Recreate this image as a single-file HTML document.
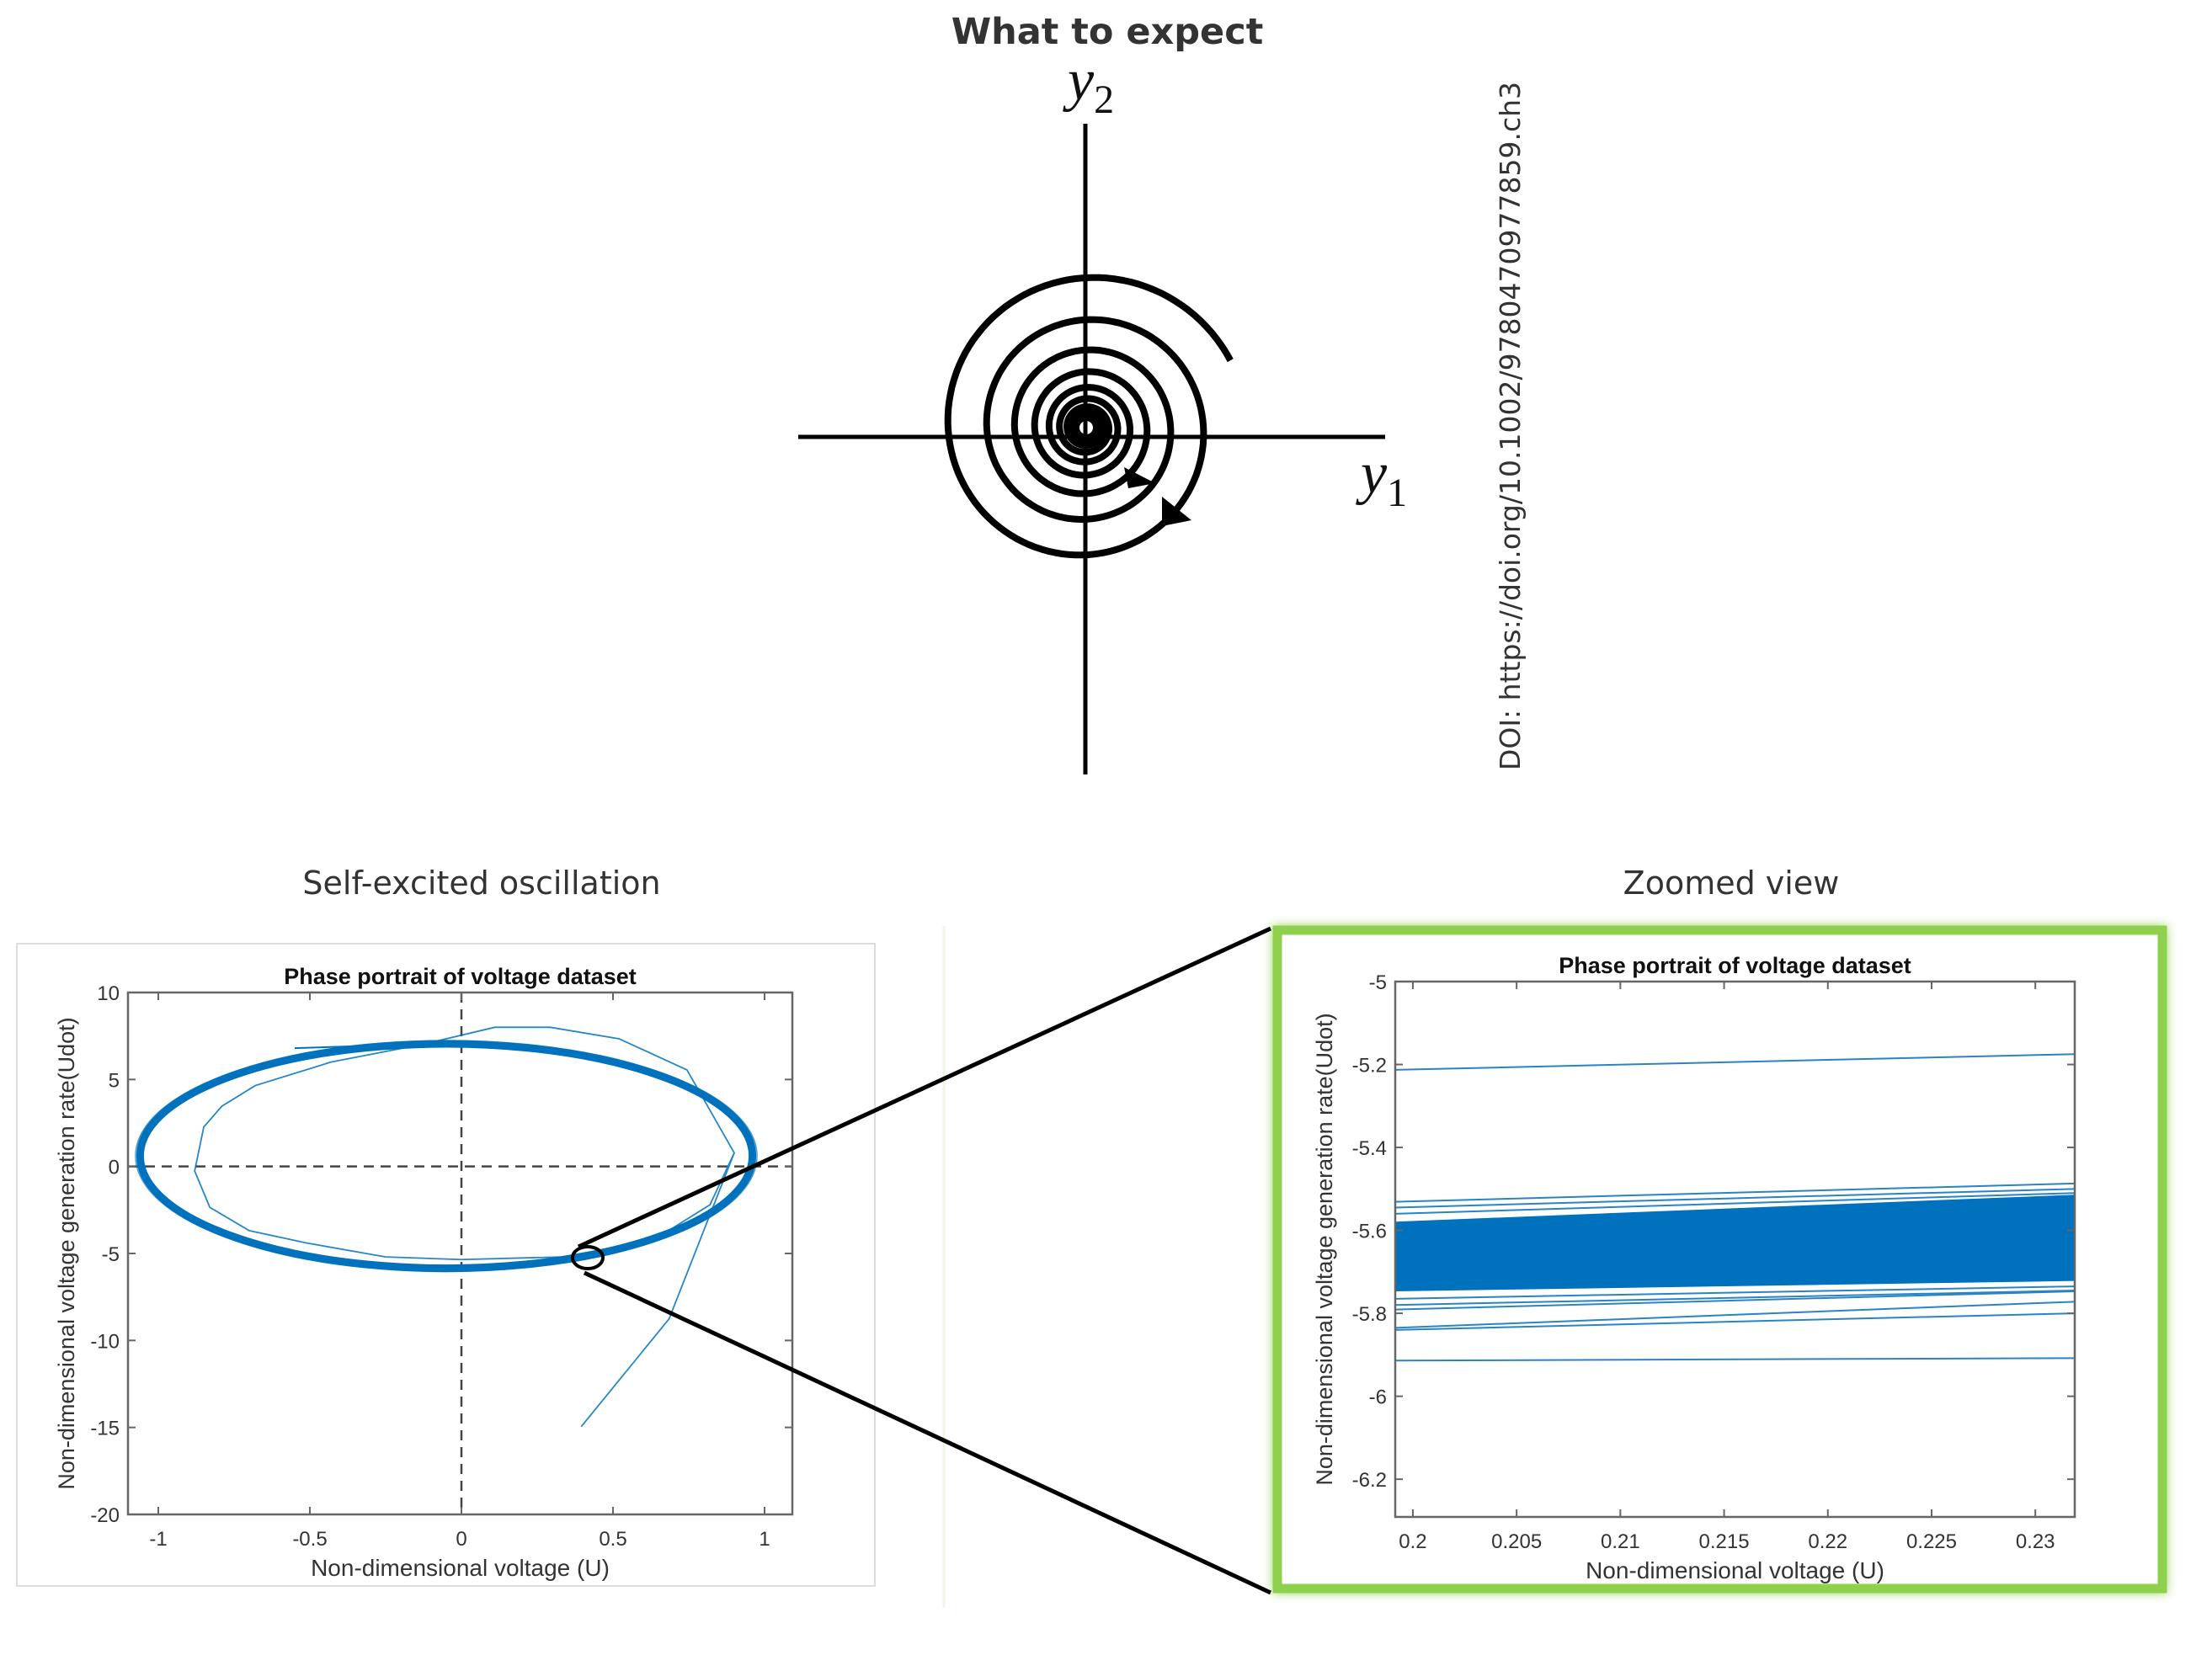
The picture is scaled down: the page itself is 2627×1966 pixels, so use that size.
<!DOCTYPE html>
<html><head><meta charset="utf-8">
<style>
html,body{margin:0;padding:0;background:#fff;}
svg{display:block;}
.t{font-family:"Liberation Sans",Arial,sans-serif;fill:#333;}
.h{font-family:"DejaVu Sans","Liberation Sans",sans-serif;fill:#333;}
</style></head>
<body>
<svg id="root" width="2627" height="1966" viewBox="0 0 2627 1966" xmlns="http://www.w3.org/2000/svg">
  <text class="h" x="1315" y="52" font-size="43" font-weight="bold" text-anchor="middle">What to expect</text>
  <g id="spiral">
    <line x1="1289" y1="147" x2="1289" y2="920" stroke="#000" stroke-width="5"/>
    <line x1="948" y1="519" x2="1645" y2="519" stroke="#000" stroke-width="5"/>
    <text x="1268" y="118" font-family="Liberation Serif,serif" font-style="italic" font-size="70" fill="#111">y<tspan font-style="normal" font-size="48" dy="16">2</tspan></text>
    <text x="1616" y="585" font-family="Liberation Serif,serif" font-style="italic" font-size="70" fill="#111">y<tspan font-style="normal" font-size="48" dy="16">1</tspan></text>
  </g>
  <text class="h" transform="translate(1805,506) rotate(-90)" font-size="33" text-anchor="middle">DOI: https://doi.org/10.1002/9780470977859.ch3</text>

  <text class="h" x="572" y="1062" font-size="38" text-anchor="middle">Self-excited oscillation</text>
  <text class="h" x="2056" y="1062" font-size="38" text-anchor="middle">Zoomed view</text>
  <rect x="20" y="1121" width="1019" height="763" fill="none" stroke="#ddd" stroke-width="2"/>
  <line x1="1121" y1="1100" x2="1121" y2="1910" stroke="#eef7e6" stroke-width="3"/>

  <g id="left"></g>

  <rect x="1517" y="1105" width="1051" height="782" fill="#fff" stroke="#8fd14f" stroke-width="11" style="filter:drop-shadow(0 0 6px #9bd860)"/>
  <g id="right"></g>

  <ellipse cx="698" cy="1494" rx="18" ry="13" fill="none" stroke="#000" stroke-width="4"/>
  <line x1="687" y1="1481" x2="1509" y2="1103" stroke="#000" stroke-width="5"/>
  <line x1="694" y1="1512" x2="1509" y2="1892" stroke="#000" stroke-width="5"/>
</svg>
<script>
// ---- left chart data ----
const leftXTicks = [-1, -0.5, 0, 0.5, 1];
const leftXTickLabels = ["-1", "-0.5", "0", "0.5", "1"];
const leftYTicks = [10, 5, 0, -5, -10, -15, -20];
const leftYTickLabels = ["10", "5", "0", "-5", "-10", "-15", "-20"];
const loopU = [0.96, 0.926, 0.825, 0.664, 0.455, 0.211, -0.05, -0.311, -0.555, -0.764, -0.925, -1.026, -1.06, -1.026, -0.925, -0.764, -0.555, -0.311, -0.05, 0.211, 0.455, 0.664, 0.825, 0.926];
const loopUdot = [0.6, 2.27, 3.83, 5.16, 6.19, 6.83, 7.05, 6.83, 6.19, 5.16, 3.83, 2.27, 0.6, -1.07, -2.63, -3.96, -4.99, -5.63, -5.85, -5.63, -4.99, -3.96, -2.63, -1.07];
const transU = [0.395, 0.685, 0.9, 0.744, 0.52, 0.293, 0.11, -0.12, -0.43, -0.68, -0.79, -0.85, -0.88, -0.83, -0.70, -0.51, -0.25, 0.0, 0.33, 0.63, 0.82, 0.9];
const transUdot = [-14.96, -8.76, 0.78, 5.55, 7.34, 8.0, 8.0, 7.05, 6.0, 4.65, 3.47, 2.27, -0.26, -2.35, -3.69, -4.4, -5.2, -5.35, -5.2, -4.27, -2.2, 0.78];
const strayU = [-0.55, -0.1];
const strayUdot = [6.8, 7.05];

// ---- zoomed chart data ----
const zXTicks = [0.2, 0.205, 0.21, 0.215, 0.22, 0.225, 0.23];
const zXTickLabels = ["0.2", "0.205", "0.21", "0.215", "0.22", "0.225", "0.23"];
const zYTicks = [-5, -5.2, -5.4, -5.6, -5.8, -6, -6.2];
const zYTickLabels = ["-5", "-5.2", "-5.4", "-5.6", "-5.8", "-6", "-6.2"];
const zLineLeftY = [-5.213, -5.531, -5.545, -5.56, -5.765, -5.78, -5.791, -5.835, -5.84, -5.914];
const zLineRightY = [-5.175, -5.487, -5.50, -5.51, -5.735, -5.745, -5.747, -5.772, -5.80, -5.908];
const zBandTop = [-5.579, -5.514];
const zBandBottom = [-5.747, -5.722];

const NS = "http://www.w3.org/2000/svg";
function mk(tag, attrs, parent) {
  const e = document.createElementNS(NS, tag);
  for (const k in attrs) e.setAttribute(k, attrs[k]);
  parent.appendChild(e);
  return e;
}
const BLUE = "#0072bd";

function axesFrame(g, L, T, R, B, xs, ys, xt, xl, yt, yl, title) {
  const box = mk("rect", {x: L, y: T, width: R - L, height: B - T, fill: "none", stroke: "#666", "stroke-width": 2.5}, g);
  
  
  xt.forEach((v, i) => {
    const x = xs(v);
    const t1 = mk("line", {x1: x, y1: B, x2: x, y2: B - 9, stroke: "#666", "stroke-width": 2}, g);
    
    
    const t2 = mk("line", {x1: x, y1: T, x2: x, y2: T + 9, stroke: "#666", "stroke-width": 2}, g);
    
    
    const lb = mk("text", {x: x, y: B + 37, "text-anchor": "middle", "font-size": 24, class: "t"}, g);
    lb.textContent = xl[i];
    
    
  });
  yt.forEach((v, i) => {
    const y = ys(v);
    const t1 = mk("line", {x1: L, y1: y, x2: L + 9, y2: y, stroke: "#666", "stroke-width": 2}, g);
    
    
    const t2 = mk("line", {x1: R, y1: y, x2: R - 9, y2: y, stroke: "#666", "stroke-width": 2}, g);
    
    
    const lb = mk("text", {x: L - 10, y: y + 9, "text-anchor": "end", "font-size": 24, class: "t"}, g);
    lb.textContent = yl[i];
    
    
  });
  const tt = mk("text", {x: (L + R) / 2, y: T - 10, "text-anchor": "middle", "font-size": 27, "font-weight": "bold", class: "t", style: "fill:#111"}, g);
  tt.textContent = title;
  
  
  const xa = mk("text", {x: (L + R) / 2, y: B + 73, "text-anchor": "middle", "font-size": 28, class: "t"}, g);
  xa.textContent = "Non-dimensional voltage (U)";
  
  
}

function smoothClosed(px, py) {
  const n = px.length; let d = "M" + px[0] + "," + py[0];
  for (let i = 0; i < n; i++) {
    const p0 = (i - 1 + n) % n, p1 = i, p2 = (i + 1) % n, p3 = (i + 2) % n;
    const c1x = px[p1] + (px[p2] - px[p0]) / 6, c1y = py[p1] + (py[p2] - py[p0]) / 6;
    const c2x = px[p2] - (px[p3] - px[p1]) / 6, c2y = py[p2] - (py[p3] - py[p1]) / 6;
    d += " C" + c1x + "," + c1y + " " + c2x + "," + c2y + " " + px[p2] + "," + py[p2];
  }
  return d + "Z";
}

// ---- left chart ----
(function () {
  const g = document.getElementById("left");
  const L = 152, R = 941, T = 1179, B = 1799;
  const xs = v => 548 + (v) * 360;
  const ys = v => T + (10 - v) * (B - T) / 30;
  const ya = mk("text", {transform: "translate(88," + (T + B) / 2 + ") rotate(-90)", "text-anchor": "middle", "font-size": 27, class: "t"}, g);
  ya.textContent = "Non-dimensional voltage generation rate(Udot)";
  
  
  const d1 = mk("line", {x1: xs(0), y1: T, x2: xs(0), y2: B, stroke: "#444", "stroke-width": 2.5, "stroke-dasharray": "12,8"}, g);
  
  
  const d2 = mk("line", {x1: L, y1: ys(0), x2: R, y2: ys(0), stroke: "#444", "stroke-width": 2.5, "stroke-dasharray": "12,8"}, g);
  
  
  const px = loopU.map(xs), py = loopUdot.map(ys);
  const loop = mk("path", {d: smoothClosed(px, py), fill: "none", stroke: BLUE, "stroke-width": 9}, g);
  
  
  const loop2 = mk("path", {d: smoothClosed(px.map(x => 530 + (x - 530) * 1.015), py.map(y => ys(0.6) + (y - ys(0.6)) * 1.03)), fill: "none", stroke: BLUE, "stroke-width": 1.5, opacity: 0.7}, g);
  
  
  const tr = mk("polyline", {points: transU.map((u, i) => xs(u) + "," + ys(transUdot[i])).join(" "), fill: "none", stroke: BLUE, "stroke-width": 1.8, opacity: 0.85}, g);
  
  
  const st = mk("polyline", {points: strayU.map((u, i) => xs(u) + "," + ys(strayUdot[i])).join(" "), fill: "none", stroke: BLUE, "stroke-width": 2}, g);
  
  
  axesFrame(g, L, T, R, B, xs, ys, leftXTicks, leftXTickLabels, leftYTicks, leftYTickLabels, "Phase portrait of voltage dataset");
})();

// ---- zoomed chart ----
(function () {
  const g = document.getElementById("right");
  const L = 1657, R = 2464, T = 1166, B = 1802;
  const x0 = 0.19915, x1 = 0.2319, y0 = -6.291, y1 = -5;
  const xs = v => L + (v - x0) / (x1 - x0) * (R - L);
  const ys = v => T + (y1 - v) / (y1 - y0) * (B - T);
  const ya = mk("text", {transform: "translate(1582," + (T + B) / 2 + ") rotate(-90)", "text-anchor": "middle", "font-size": 27, class: "t"}, g);
  ya.textContent = "Non-dimensional voltage generation rate(Udot)";
  
  
  const band = mk("polygon", {points: [xs(x0) + "," + ys(zBandTop[0]), xs(x1) + "," + ys(zBandTop[1]), xs(x1) + "," + ys(zBandBottom[1]), xs(x0) + "," + ys(zBandBottom[0])].join(" "), fill: BLUE}, g);
  
  
  zLineLeftY.forEach((v, i) => {
    const ln = mk("line", {x1: xs(x0), y1: ys(v), x2: xs(x1), y2: ys(zLineRightY[i]), stroke: "#2a84c4", "stroke-width": 2}, g);
    
    
  });
  axesFrame(g, L, T, R, B, xs, ys, zXTicks, zXTickLabels, zYTicks, zYTickLabels, "Phase portrait of voltage dataset");
})();

// ---- spiral illustration ----
(function () {
  const g = document.getElementById("spiral");
  const cx = 1290, cy = 508;
  let pts = [];
  for (let a = 25; ; a += 3) {
    const r = 189 * Math.pow(0.72, (a - 25) / 360);
    if (r < 13) break;
    const t = a * Math.PI / 180;
    pts.push((cx + r * Math.cos(t)).toFixed(1) + "," + (cy - r * Math.sin(t)).toFixed(1));
  }
  const sp = mk("polyline", {points: pts.join(" "), fill: "none", stroke: "#000", "stroke-width": 8, "stroke-linejoin": "round"}, g);
  
  
  const c = mk("circle", {cx: cx, cy: cy, r: 13, fill: "none", stroke: "#000", "stroke-width": 10}, g);
  
  
  const a1 = mk("polygon", {points: "1335,555 1372,574 1340,580", fill: "#000"}, g);
  
  
  const a2 = mk("polygon", {points: "1380,590 1415,618 1380,625", fill: "#000"}, g);
  
  
})();
</script>
</body></html>
